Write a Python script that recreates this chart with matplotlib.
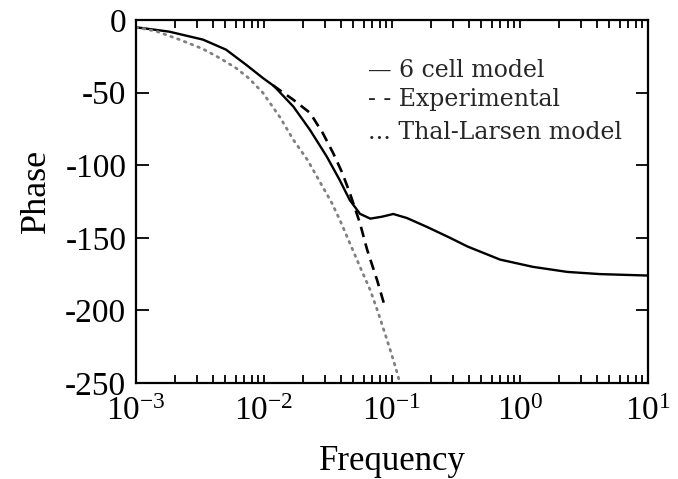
import numpy as np
import matplotlib
matplotlib.use("Agg")
import matplotlib.pyplot as plt

# ---- data ----
cell_logf = [-3.0, -2.742, -2.477, -2.297, -2.14, -2.008, -1.922, -1.77, -1.64, -1.51,
             -1.41, -1.33, -1.25, -1.17, -1.08, -0.99, -0.883, -0.727, -0.547, -0.41,
             -0.156, 0.10, 0.37, 0.625, 1.0]
cell_phase = [-5, -8, -13.5, -20.4, -30.8, -40, -45.5, -59.7, -75.8, -94,
              -110, -124, -133.5, -136.8, -135.5, -133.6, -136.4, -142.5, -150, -156,
              -165, -170, -173.5, -175, -176]

exp_logf = [-1.93, -1.77, -1.64, -1.54, -1.46, -1.39, -1.33, -1.25, -1.195, -1.117, -1.055]
exp_phase = [-45, -55, -64, -78, -91.6, -105, -119, -140, -158, -179, -197.6]

tl_logf = [-3.0, -2.84, -2.66, -2.48, -2.35, -2.22, -2.12, -2.01, -1.875, -1.77, -1.66,
           -1.56, -1.47, -1.406, -1.33, -1.25, -1.17, -1.11, -1.04, -0.99, -0.953, -0.94]
tl_phase = [-5, -7.8, -13.5, -19.8, -26, -33, -40, -50, -67, -82.6, -96.4,
            -112, -126, -138, -153.6, -170, -186, -201, -220, -234, -245, -250]

legend_lines = ["\u2014 6 cell model", "- - Experimental", "... Thal-Larsen model"]
xtick_vals = [1e-3, 1e-2, 1e-1, 1e0, 1e1]
xtick_labels = [r"$10^{-3}$", r"$10^{-2}$", r"$10^{-1}$", r"$10^{0}$", r"$10^{1}$"]
ytick_vals = [0, -50, -100, -150, -200, -250]
ytick_labels = ["0", "-50", "-100", "-150", "-200", "-250"]

plt.rcParams["mathtext.fontset"] = "custom"
plt.rcParams["mathtext.rm"] = "Liberation Serif"
plt.rcParams["mathtext.it"] = "Liberation Serif:italic"
plt.rcParams["font.family"] = ["Liberation Serif", "DejaVu Serif"]

fig = plt.figure(figsize=(6.78, 4.79), dpi=100)
ax = fig.add_axes([136/678, 1-383/479, 512/678, 363/479])

ax.plot(10**np.array(cell_logf), cell_phase, color="black", lw=1.7, ls="-")
ax.plot(10**np.array(exp_logf), exp_phase, color="black", lw=1.9, ls=(0, (4, 2.5)))
ax.plot(10**np.array(tl_logf), tl_phase, color="0.5", lw=2.0, ls=(0, (0.6, 2.0)),
        dash_capstyle="round")

ax.set_xscale("log")
ax.set_xlim(1e-3, 1e1)
ax.set_ylim(-250, 0)
ax.set_xticks(xtick_vals)
ax.set_xticklabels(xtick_labels)
ax.set_yticks(ytick_vals)
ax.set_yticklabels(ytick_labels)

ax.tick_params(axis="x", which="both", direction="in", top=True, bottom=True,
               length=6, width=1.3, labelsize=24, pad=10)
ax.tick_params(axis="y", which="major", direction="in", left=True, right=True,
               length=9, width=1.3, labelsize=24, pad=7)
ax.tick_params(axis="y", which="minor", left=False, right=False)
for s in ax.spines.values():
    s.set_linewidth(1.6)

ax.set_xlabel("Frequency", fontsize=25)
ax.set_ylabel("Phase", fontsize=26)
ax.xaxis.set_label_coords(0.5, -0.172)
ax.yaxis.set_label_coords(-0.162, 0.53)

ys = [0.862, 0.780, 0.689]
for t, y in zip(legend_lines, ys):
    ax.text(0.453, y, t, transform=ax.transAxes, fontsize=17, va="center", ha="left",
            family=["DejaVu Serif"], color="0.15")

fig.savefig("out.png", dpi=100)
